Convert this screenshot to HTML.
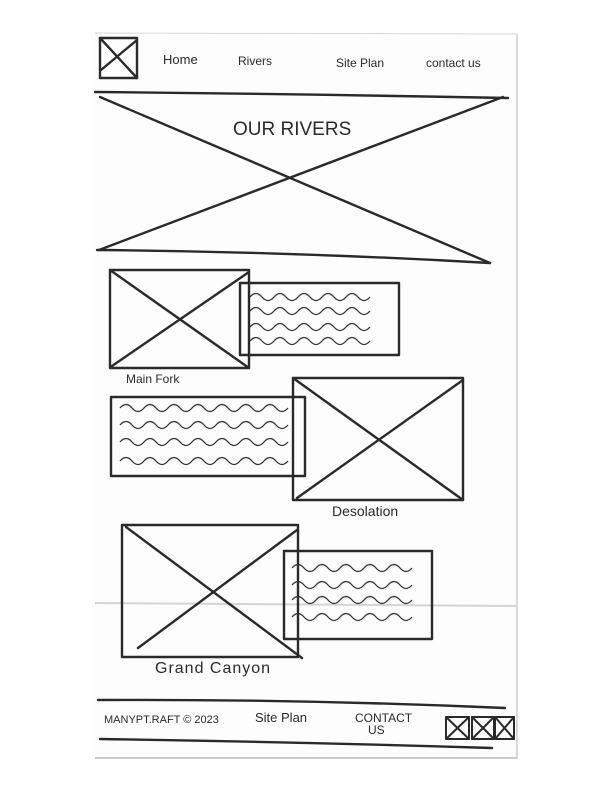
<!DOCTYPE html>
<html><head><meta charset="utf-8"><style>
html,body{margin:0;padding:0;background:#fff;}
svg{display:block;}
text{font-family:"Liberation Sans",sans-serif;fill:#2a2a2a;}
</style></head><body>
<svg width="612" height="792" viewBox="0 0 612 792" xmlns="http://www.w3.org/2000/svg">
<g>
<rect x="95" y="33" width="422" height="726" fill="#fdfdfd"/>
<line x1="95" y1="33" x2="517" y2="34" stroke="#d8d8d8" stroke-width="1"/>
<line x1="517" y1="34" x2="517" y2="759" stroke="#cfcfcf" stroke-width="1.5"/>
<line x1="95" y1="758" x2="517" y2="758" stroke="#bdbdbd" stroke-width="1.5"/>
<line x1="95" y1="603" x2="517" y2="606" stroke="#d4d4d8" stroke-width="2"/>
</g>
<g fill="none" stroke="#2a2a2a" stroke-width="2.4" stroke-linecap="round" stroke-linejoin="round">
<g>
<rect x="100" y="38" width="37" height="40"/><line x1="100" y1="38" x2="137" y2="78"/><line x1="137" y1="40" x2="101" y2="70"/>
</g>
<g>
<path d="M95 92 Q300 94 508 98"/><path d="M97 250 Q300 252 490 263"/>
<line x1="100" y1="97" x2="490" y2="263"/><line x1="503" y1="97" x2="99" y2="250"/>
</g>
<g>
<rect x="110" y="270" width="139" height="98"/><line x1="110" y1="270" x2="249" y2="368"/><line x1="249" y1="272" x2="112" y2="366"/>
</g>
<g>
<rect x="240" y="283" width="159" height="72"/>
</g>
<g>
<rect x="111" y="397" width="194" height="79"/>
</g>
<g>
<rect x="293" y="378" width="170" height="122"/><line x1="293" y1="378" x2="463" y2="500"/><line x1="463" y1="380" x2="297" y2="498"/>
</g>
<g>
<rect x="122" y="525" width="176" height="132"/><line x1="126" y1="527" x2="302" y2="658"/><line x1="297" y1="530" x2="138" y2="648"/>
</g>
<g>
<rect x="284" y="551" width="148" height="88"/>
</g>
<g>
<path d="M98 700 Q300 699 505 708"/><path d="M100 739 Q300 742 492 748"/>
</g>
<g stroke-width="2">
<rect x="446" y="717" width="23" height="22"/><line x1="446" y1="717" x2="469" y2="739"/><line x1="469" y1="717" x2="446" y2="739"/>
<rect x="472" y="717" width="22" height="22"/><line x1="472" y1="717" x2="494" y2="739"/><line x1="494" y1="717" x2="472" y2="739"/>
<rect x="495" y="717" width="19" height="22"/><line x1="495" y1="717" x2="514" y2="739"/><line x1="514" y1="717" x2="495" y2="739"/>
</g>
</g>
<g id="waves" fill="none" stroke="#333" stroke-width="1.3"></g>
<text x="163" y="64" font-size="13">Home</text>
<text x="238" y="65" font-size="12">Rivers</text>
<text x="336" y="67" font-size="12">Site Plan</text>
<text x="426" y="67" font-size="12">contact us</text>
<text x="233" y="135" font-size="19">OUR RIVERS</text>
<text x="126" y="383" font-size="12">Main Fork</text>
<text x="332" y="516" font-size="14">Desolation</text>
<text x="155" y="673" font-size="16" letter-spacing="1">Grand Canyon</text>
<text x="104" y="723" font-size="11">MANYPT.RAFT © 2023</text>
<text x="255" y="722" font-size="13">Site Plan</text>
<text x="355" y="722" font-size="12">CONTACT</text>
<text x="368" y="734" font-size="12">US</text>
</svg>
<script>
const waveRows=[[250,380,297],[250,380,311],[250,380,327],[250,380,341],
[120,295,408],[120,295,425],[120,295,442],[120,295,461],
[292,415,568],[292,415,585],[292,415,600],[292,415,617]];
const g=document.getElementById('waves');
waveRows.forEach(function(r){
  let d='M'+r[0]+' '+r[2];
  let x=r[0],up=true;
  const h=12;
  while(x+h<=r[1]){d+=' q'+(h/2)+' '+(up?-7:7)+' '+h+' 0';x+=h;up=!up;}
  const p=document.createElementNS('http://www.w3.org/2000/svg','path');
  p.setAttribute('d',d);
  
  
  g.appendChild(p);
});
</script>
</body></html>
